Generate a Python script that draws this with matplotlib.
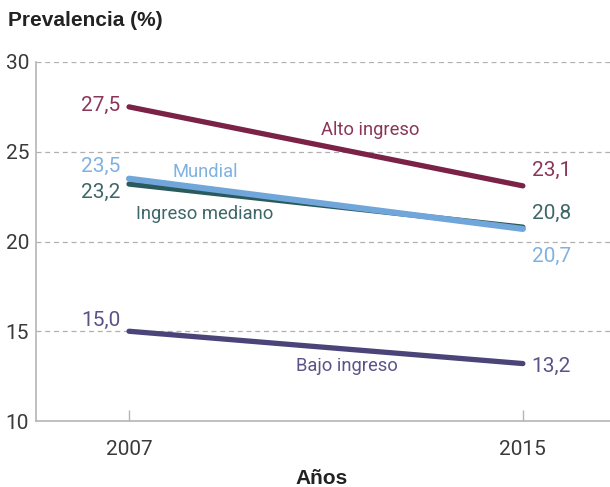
import matplotlib
matplotlib.use('Agg')
import matplotlib.pyplot as plt

plt.rcParams['font.family'] = ['Roboto', 'DejaVu Sans']

years = [2007, 2015]
series = ['Alto ingreso', 'Ingreso mediano', 'Mundial', 'Bajo ingreso']
values = {
    'Alto ingreso': [27.5, 23.1],
    'Ingreso mediano': [23.2, 20.8],
    'Mundial': [23.5, 20.7],
    'Bajo ingreso': [15.0, 13.2],
}
colors = {
    'Alto ingreso': '#7a2248',
    'Ingreso mediano': '#2b5a5c',
    'Mundial': '#70a6d9',
    'Bajo ingreso': '#4a4478',
}
text_colors = {
    'Alto ingreso': '#8a3658',
    'Ingreso mediano': '#3d6768',
    'Mundial': '#7fb2e2',
    'Bajo ingreso': '#5a5388',
}
widths = {'Alto ingreso': 3.8, 'Ingreso mediano': 3.8, 'Mundial': 4.4, 'Bajo ingreso': 3.8}
zorders = {'Alto ingreso': 3, 'Ingreso mediano': 3, 'Mundial': 4, 'Bajo ingreso': 3}

fig = plt.figure(figsize=(6.1, 4.87), dpi=100)
ax = fig.add_axes([0.059, 0.1355, 0.941, 0.7372])

for s in series:
    ax.plot(years, values[s], color=colors[s], lw=widths[s], solid_capstyle='round',
            zorder=zorders[s])

ax.set_xlim(2005.11, 2016.77)
ax.set_ylim(10, 30)
ax.set_yticks([10, 15, 20, 25, 30])
ax.set_xticks(years)
for yv in [15, 20, 25, 30]:
    ax.axhline(yv, color='#b0b0b0', lw=0.9, ls=(0, (4, 3)), zorder=1)

for side in ['top', 'right']:
    ax.spines[side].set_visible(False)
for side in ['left', 'bottom']:
    ax.spines[side].set_color('#b5b5b5')
    ax.spines[side].set_linewidth(1.2)
ax.tick_params(axis='y', length=0, labelsize=15, labelcolor='#3a3a3a', pad=5)
ax.tick_params(axis='x', direction='in', length=8, color='#b5b5b5', width=1,
               labelsize=15, labelcolor='#3a3a3a', pad=14)

# value labels (offsets in data units)
left_pos = {'Alto ingreso': 27.6, 'Mundial': 24.2, 'Ingreso mediano': 22.76, 'Bajo ingreso': 15.63}
right_pos = {'Alto ingreso': 23.98, 'Ingreso mediano': 21.59, 'Mundial': 19.19, 'Bajo ingreso': 13.06}
for s in series:
    ax.text(2006.82, left_pos[s], f'{values[s][0]:.1f}'.replace('.', ','), ha='right', va='center',
            fontsize=15, color=text_colors[s])
    ax.text(2015.18, right_pos[s], f'{values[s][1]:.1f}'.replace('.', ','), ha='left', va='center',
            fontsize=15, color=text_colors[s])

name_pos = {
    'Alto ingreso': (2011.89, 26.21),
    'Mundial': (2008.54, 23.87),
    'Ingreso mediano': (2008.54, 21.53),
    'Bajo ingreso': (2011.43, 13.06),
}
for s in series:
    x, y = name_pos[s]
    ax.text(x, y, s, ha='center', va='center', fontsize=13.2, color=text_colors[s])

fig.text(0.013, 0.958, 'Prevalencia (%)', fontsize=15, fontweight='bold', color='#222222',
         va='center', ha='left', family='Liberation Sans')
fig.text(0.527, 0.018, 'Años', fontsize=15, fontweight='bold', color='#222222',
         va='center', ha='center', family='Liberation Sans')
fig.texts[-1].set_y(1 - 478 / 487)

fig.savefig('out.png', dpi=100)
